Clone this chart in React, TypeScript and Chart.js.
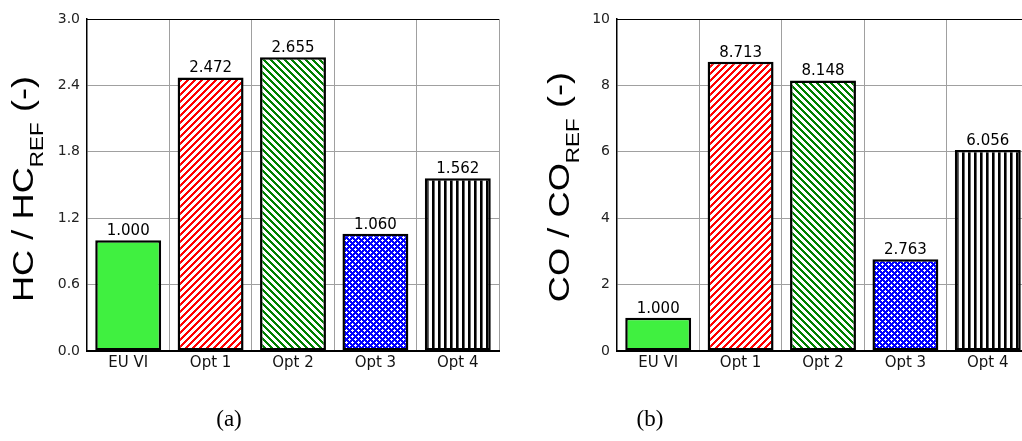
import React, { useEffect, useRef } from 'react';
import { Chart, registerables } from 'chart.js';

Chart.register(...registerables);

const categories = ['EU VI', 'Opt 1', 'Opt 2', 'Opt 3', 'Opt 4'];
const hcValues = [1.0, 2.472, 2.655, 1.06, 1.562];
const coValues = [1.0, 8.713, 8.148, 2.763, 6.056];
const hcTicks = [0, 0.6, 1.2, 1.8, 2.4, 3.0];
const coTicks = [0, 2, 4, 6, 8, 10];

const SANS = '"DejaVu Sans", "Liberation Sans", Arial, sans-serif';
const ARIAL = '"Liberation Sans", Arial, sans-serif';

type PatFn = (x: number, y: number) => string;

function makePattern(ctx: CanvasRenderingContext2D, size: number, fn: PatFn) {
  const c = document.createElement('canvas');
  c.width = size;
  c.height = size;
  const g = c.getContext('2d')!;
  for (let y = 0; y < size; y++) {
    for (let x = 0; x < size; x++) {
      g.fillStyle = fn(x, y);
      g.fillRect(x, y, 1, 1);
    }
  }
  return ctx.createPattern(c, 'repeat') as CanvasPattern;
}

function makeFills(ctx: CanvasRenderingContext2D) {
  const red = makePattern(ctx, 7, (x, y) => ((x + y) % 7 < 3 ? '#ff0000' : '#ffffff'));
  const green = makePattern(ctx, 7, (x, y) => ((x - y + 7) % 7 < 3 ? '#008000' : '#ffffff'));
  const blue = makePattern(ctx, 6, (x, y) =>
    (x + y) % 6 < 3 || (x - y + 12) % 6 < 3 ? '#0000ff' : '#ffffff'
  );
  const black = makePattern(ctx, 6, (x) => (x % 6 < 2 ? '#000000' : x % 6 === 2 ? '#666666' : '#ffffff'));
  return ['#40f040', red, green, blue, black];
}

interface Spec {
  values: number[];
  ticks: number[];
  decimals: number;
  titleMain: string;
  titleSub: string;
  titleX: number;
  titleY: number;
}

function BarPanel({ spec, left }: { spec: Spec; left: number }) {
  const ref = useRef<HTMLCanvasElement>(null);
  useEffect(() => {
    const canvas = ref.current!;
    const ctx = canvas.getContext('2d')!;
    const fills = makeFills(ctx);
    const overlay = {
      id: 'overlay',
      afterDatasetsDraw(chart: any) {
        const c = chart.ctx;
        const area = chart.chartArea;
        c.save();
        c.strokeStyle = '#000';
        c.lineWidth = 1;
        c.beginPath();
        c.moveTo(area.left, area.top + 0.5);
        c.lineTo(area.right, area.top + 0.5);
        c.stroke();
        const meta = chart.getDatasetMeta(0);
        c.fillStyle = '#000';
        c.font = `15px ${SANS}`;
        c.textAlign = 'center';
        c.textBaseline = 'alphabetic';
        meta.data.forEach((el: any, i: number) => {
          c.fillText(spec.values[i].toFixed(3), el.x, el.y - 5);
        });
        c.restore();
      },
      afterDraw(chart: any) {
        const c = chart.ctx;
        c.save();
        c.translate(spec.titleX, spec.titleY);
        c.rotate(-Math.PI / 2);
        c.scale(1.25, 1);
        c.fillStyle = '#000';
        c.textBaseline = 'alphabetic';
        c.textAlign = 'left';
        const big = `29px ${ARIAL}`;
        const small = `18px ${ARIAL}`;
        const tail = ' (-)';
        c.font = big;
        const w1 = c.measureText(spec.titleMain).width;
        const w3 = c.measureText(tail).width;
        c.font = small;
        const w2 = c.measureText(spec.titleSub).width;
        const x0 = -(w1 + w2 + w3) / 2;
        c.font = big;
        c.fillText(spec.titleMain, x0, 0);
        c.fillText(tail, x0 + w1 + w2, 0);
        c.font = small;
        c.fillText(spec.titleSub, x0 + w1, 10);
        c.restore();
      },
    };
    const chart = new Chart(canvas, {
      type: 'bar',
      data: {
        labels: categories,
        datasets: [
          {
            data: spec.values,
            backgroundColor: fills as any,
            borderColor: '#000',
            borderWidth: 2.5,
            borderSkipped: false,
            barPercentage: 0.8,
            categoryPercentage: 1,
          },
        ],
      },
      options: {
        responsive: false,
        animation: false,
        devicePixelRatio: 1,
        layout: { padding: { top: 19, right: 11, left: 0, bottom: 0 } },
        plugins: { legend: { display: false }, tooltip: { enabled: false } },
        scales: {
          x: {
            grid: { color: '#a0a0a0', lineWidth: 1, drawTicks: false, offset: true },
            border: { display: true, color: '#000', width: 2 },
            ticks: { padding: 3, color: '#111', font: { family: SANS, size: 15 } },
            afterFit: (s: any) => {
              s.height = 90;
            },
          },
          y: {
            min: spec.ticks[0],
            max: spec.ticks[spec.ticks.length - 1],
            grid: { color: '#a0a0a0', lineWidth: 1, drawTicks: false },
            border: { display: true, color: '#000', width: 1.5 },
            ticks: {
              padding: 7,
              color: '#222',
              font: { family: SANS, size: 14 },
              callback: (v: any) => Number(v).toFixed(spec.decimals),
            },
            afterBuildTicks: (s: any) => {
              s.ticks = spec.ticks.map((v) => ({ value: v }));
            },
            afterFit: (s: any) => {
              s.width = 87;
            },
          },
        },
      },
      plugins: [overlay],
    });
    return () => chart.destroy();
  }, [spec]);
  return (
    <canvas
      ref={ref}
      width={510}
      height={441}
      style={{ position: 'absolute', left, top: 0, width: 510, height: 441 }}
    />
  );
}

const hcSpec: Spec = {
  values: hcValues,
  ticks: hcTicks,
  decimals: 1,
  titleMain: 'HC / HC',
  titleSub: 'REF',
  titleX: 33,
  titleY: 189,
};
const coSpec: Spec = {
  values: coValues,
  ticks: coTicks,
  decimals: 0,
  titleMain: 'CO / CO',
  titleSub: 'REF',
  titleX: 39,
  titleY: 187,
};

const captionStyle = (cx: number): React.CSSProperties => ({
  position: 'absolute',
  left: cx - 40,
  width: 80,
  top: 404,
  height: 30,
  lineHeight: '30px',
  textAlign: 'center',
  fontFamily: '"Liberation Serif", "Times New Roman", serif',
  fontSize: 23,
  color: '#000',
});

export default function App() {
  return (
    <div
      style={{
        position: 'fixed',
        left: 0,
        top: 0,
        width: 1022,
        height: 441,
        overflow: 'hidden',
        background: '#fff',
      }}
    >
      <BarPanel spec={hcSpec} left={0} />
      <BarPanel spec={coSpec} left={530} />
      <div style={captionStyle(229)}>(a)</div>
      <div style={captionStyle(650)}>(b)</div>
    </div>
  );
}
